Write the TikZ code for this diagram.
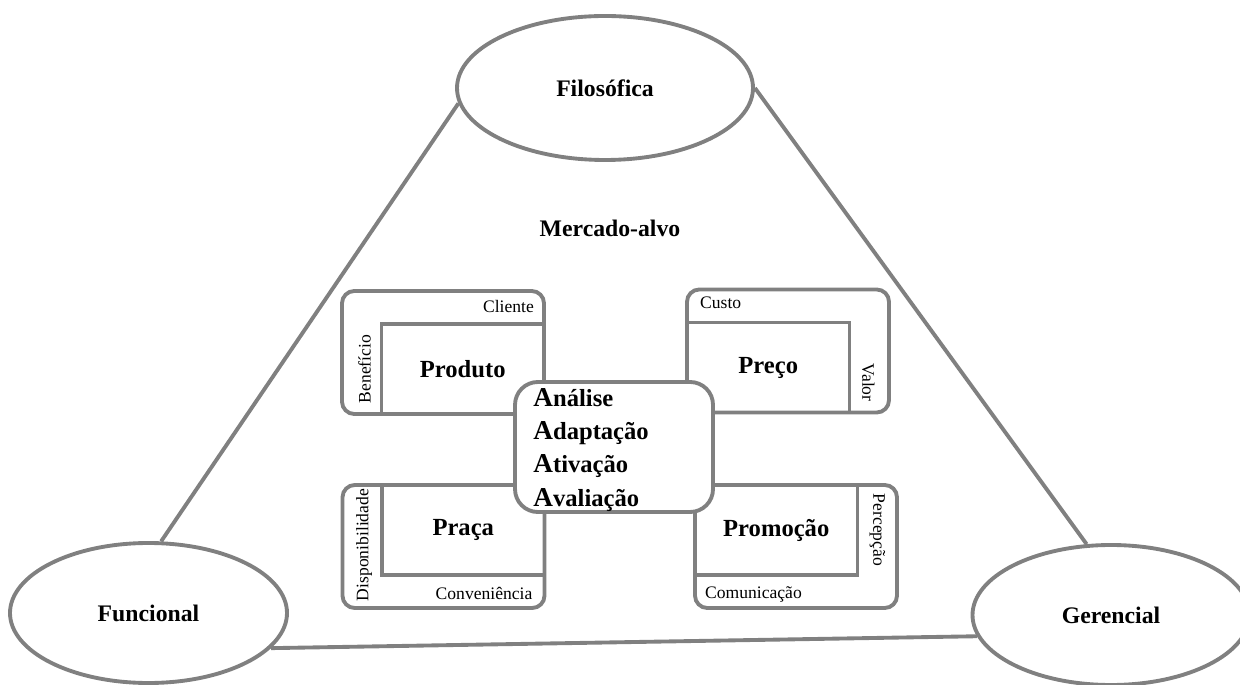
\documentclass[tikz,border=0pt]{standalone}
\usepackage{fontspec}
\setmainfont{Liberation Serif}
\usetikzlibrary{positioning,shapes.geometric}
\definecolor{LineGray}{HTML}{808080}
\newcommand{\bigA}[1]{{\fontsize{15.5}{19}\selectfont A}#1}

\begin{document}
\begin{tikzpicture}[
    ell/.style={ellipse, draw=LineGray, line width=2.2pt, fill=white, inner sep=0pt,
                font=\fontsize{13.5}{16}\selectfont\bfseries},
    mixbox/.style={draw=LineGray, line width=2.2pt, fill=white, rounded corners=7pt,
                   minimum width=4.04cm, minimum height=2.46cm, inner sep=0pt},
    corebox/.style={draw=LineGray, line width=2.2pt, minimum width=3.25cm, minimum height=1.8cm,
                    inner sep=0pt, font=\fontsize{14}{16}\selectfont\bfseries},
    tag/.style={font=\fontsize{10}{12}\selectfont, inner sep=1pt},
    tie/.style={draw=LineGray, line width=2.2pt}
  ]
  \useasboundingbox (0,0) rectangle (24.8,13.68);

  % the three views
  \node[ell, minimum width=5.92cm, minimum height=2.88cm] (filo) at (12.1,11.92) {Filosófica};
  \node[ell, minimum width=5.54cm, minimum height=2.8cm] (func) at (2.97,1.42) {Funcional};
  \node[ell, minimum width=5.54cm, minimum height=2.8cm] (ger) at (22.22,1.38) {Gerencial};
  \draw[tie] (filo.186) -- (func.80);
  \draw[tie] (filo.east) -- (ger.109);
  \draw[tie] (func.344) -- (ger.189);

  \node[font=\fontsize{13.5}{16}\selectfont\bfseries] (alvo) at (12.2,9.12) {Mercado-alvo};

  % Produto
  \node[mixbox] (prodo) at (8.86,6.63) {};
  \node[corebox, anchor=south east] (prod) at (prodo.south east) {Produto};
  \node[tag, anchor=east] (cli) at ([xshift=-0.2cm,yshift=-0.34cm]prodo.north east) {Cliente};
  \node[tag, rotate=90] (ben) at ([xshift=-0.3cm]prod.west) {Benefício};

  % Preco
  \node[mixbox] (precoo) at (15.76,6.66) {};
  \node[corebox, anchor=south west] (preco) at (precoo.south west) {Preço};
  \node[tag, anchor=west] (cus) at ([xshift=0.26cm,yshift=-0.3cm]precoo.north west) {Custo};
  \node[tag, rotate=-90] (val) at ([xshift=0.34cm,yshift=-0.3cm]preco.east) {Valor};

  % Praca
  \node[mixbox] (pracao) at (8.87,2.75) {};
  \node[corebox, anchor=north east] (praca) at (pracao.north east) {Praça};
  \node[tag, rotate=90] (disp) at ([xshift=-0.32cm,yshift=-0.3cm]praca.west) {Disponibilidade};
  \node[tag, anchor=east] (conv) at ([xshift=-0.24cm,yshift=0.32cm]pracao.south east) {Conveniência};

  % Promocao
  \node[mixbox] (promoo) at (15.92,2.75) {};
  \node[corebox, anchor=north west] (promo) at (promoo.north west) {Promoção};
  \node[tag, rotate=-90] (perc) at ([xshift=0.36cm]promo.east) {Percepção};
  \node[tag, anchor=west] (com) at ([xshift=0.2cm,yshift=0.3cm]promoo.south west) {Comunicação};

  % the four A
  \node[draw=LineGray, line width=2.2pt, fill=white, rounded corners=13pt,
        minimum width=3.96cm, minimum height=2.6cm] (ctr) at (12.28,4.74) {};
  \foreach \w [count=\i] in {nálise,daptação,tivação,valiação}
    \node[anchor=base west, inner sep=0pt, font=\fontsize{14}{16}\selectfont\bfseries]
      (a\i) at ([xshift=0.4cm,yshift={-0.52cm-(\i-1)*0.667cm}]ctr.north west) {\bigA{\w}};
\end{tikzpicture}
\end{document}
